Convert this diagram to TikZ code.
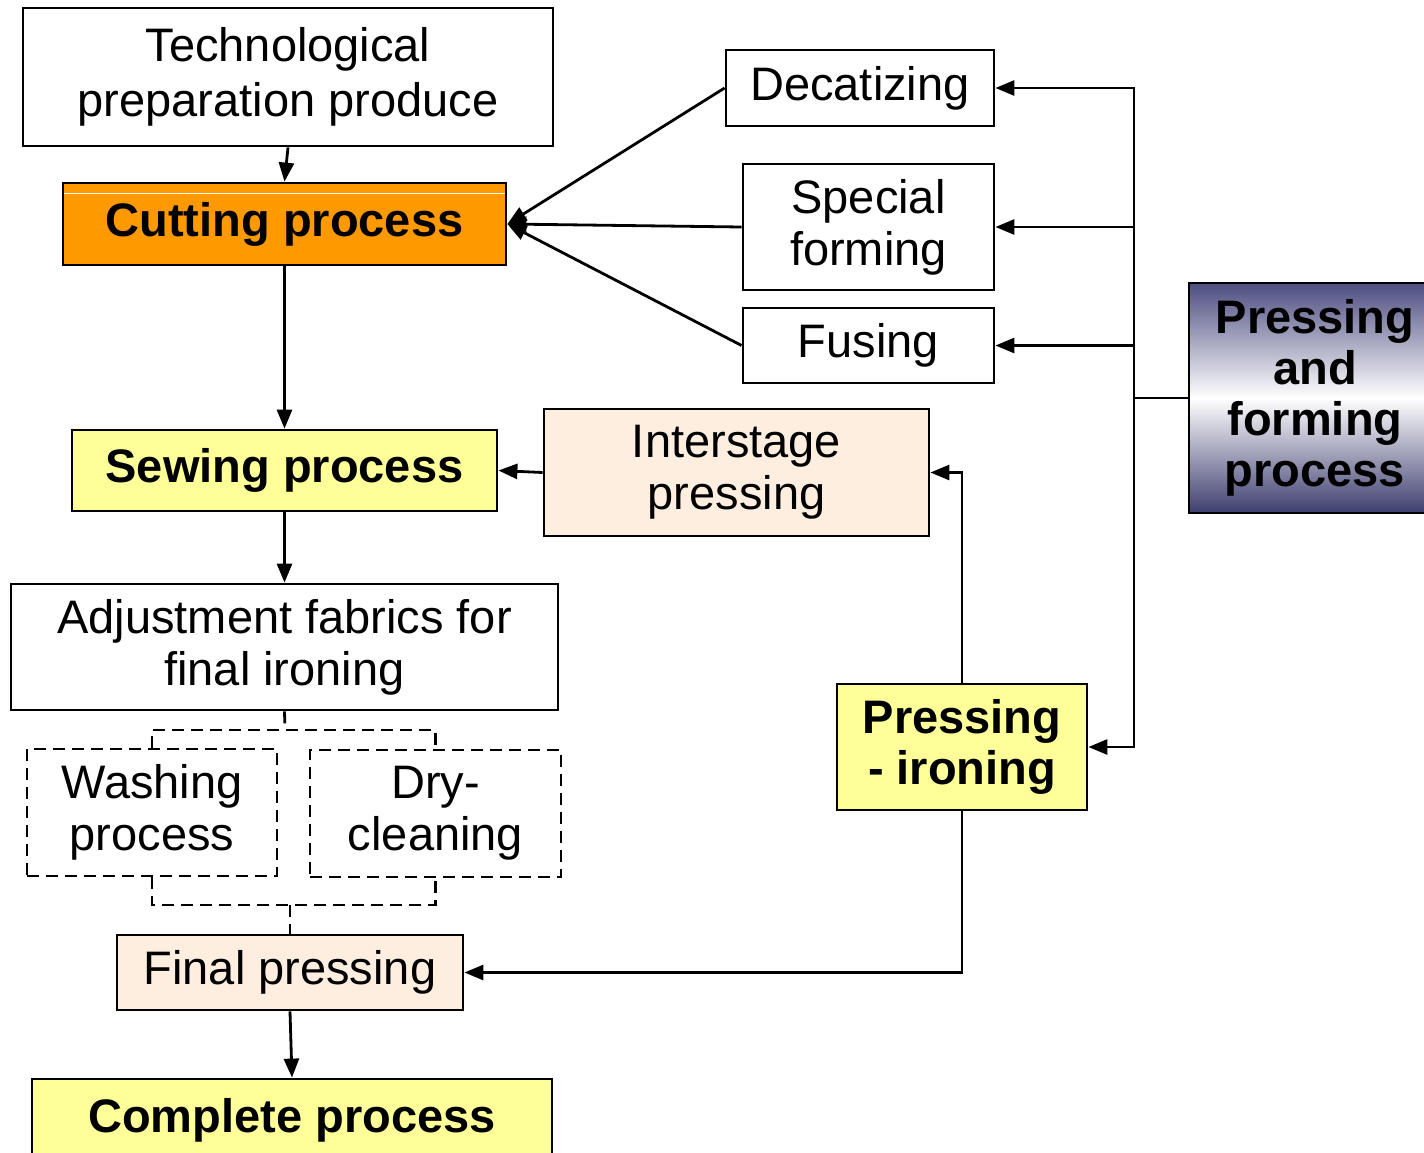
\documentclass[tikz,border=0pt]{standalone}
\usepackage{fontspec}
\setmainfont{Liberation Sans}
\usetikzlibrary{arrows.meta}
\definecolor{cutorange}{HTML}{FF9900}
\definecolor{paleyellow}{HTML}{FFFF99}
\definecolor{peach}{HTML}{FDEEDF}
\definecolor{navytop}{RGB}{78,78,130}
\definecolor{navybot}{RGB}{62,62,112}
\begin{document}
\begin{tikzpicture}[x=1pt,y=-1pt,
  box/.style={draw=black, line width=2.8pt, inner sep=0pt, align=center,
    font=\fontsize{47}{52}\selectfont},
  bbox/.style={box, font=\fontsize{47}{51}\selectfont\bfseries},
  dbox/.style={box, dash pattern=on 12pt off 7pt},
  conn/.style={line width=2.8pt},
  dsh/.style={line width=2.8pt, dash pattern=on 12pt off 7pt},
  arr/.style={line width=2.8pt, -{Triangle[length=19pt,width=15pt]}}]
\useasboundingbox (0,0) rectangle (1424,1152);

\node[box, minimum width=530pt, minimum height=138pt, font=\fontsize{47}{55}\selectfont] (tech) at (288,77) {Technological\\preparation produce};
\node[bbox, fill=cutorange, minimum width=443pt, minimum height=82pt] (cut) at (284.5,224) {Cutting process};
\draw[white, line width=1.2pt] ([xshift=2pt,yshift=-12pt]cut.north west) -- ([xshift=-2pt,yshift=-12pt]cut.north east);
\node[box, minimum width=268pt, minimum height=76pt] (dec) at (860,88) {Decatizing};
\node[box, minimum width=251pt, minimum height=126pt] (spec) at (868.5,227) {Special\\forming};
\node[box, minimum width=251pt, minimum height=75pt] (fus) at (868.5,345.5) {Fusing};
\node[bbox, top color=navytop, bottom color=navybot, middle color=white, minimum width=252pt, minimum height=230pt] (pf) at (1315,398) {Pressing\\and\\forming\\process};
\node[bbox, fill=paleyellow, minimum width=425pt, minimum height=81pt] (sew) at (284.5,470.5) {Sewing process};
\node[box, fill=peach, minimum width=385pt, minimum height=127pt] (inter) at (736.5,472.5) {Interstage\\pressing};
\node[box, minimum width=547pt, minimum height=126pt] (adj) at (284.5,647) {Adjustment fabrics for\\final ironing};
\node[dbox, minimum width=250pt, minimum height=127pt] (wash) at (152,812.5) {Washing\\process};
\node[dbox, minimum width=251pt, minimum height=127pt] (dry) at (435.5,813.5) {Dry-\\cleaning};
\node[bbox, fill=paleyellow, minimum width=250pt, minimum height=126pt] (pi) at (962,747) {Pressing\\- ironing};
\node[box, fill=peach, minimum width=346pt, minimum height=75pt] (fin) at (290,972.5) {Final pressing};
\node[bbox, fill=paleyellow, minimum width=520pt, minimum height=82pt] (comp) at (292,1120) {Complete process};

\draw[arr] (tech.south) -- (cut.north);
\draw[arr] (dec.west) -- (cut.east);
\draw[arr] (spec.west) -- (cut.east);
\draw[arr] (fus.west) -- (cut.east);
\draw[arr] (cut.south) -- (sew.north);
\draw[arr] (inter.west) -- (sew.east);
\draw[arr] (sew.south) -- (adj.north);

\coordinate (j1) at (285,730);
\coordinate (j2) at (290,905);
\draw[dsh] (adj.south) -- (j1);
\draw[dsh] (wash.north) |- (j1) -| (dry.north);
\draw[dsh] (wash.south) |- (j2) -| (dry.south);
\draw[dsh] (j2) -- (fin.north);
\draw[arr] (fin.south) -- (comp.north);

\draw[arr] (pi.north) |- (inter.east);
\draw[arr] (pi.south) |- (fin.east);

\coordinate (bus) at (1134,398);
\draw[conn] (pf.west) -- (bus);
\draw[arr] (bus) |- (dec.east);
\draw[arr] (bus) |- (spec.east);
\draw[arr] (bus) |- (fus.east);
\draw[arr] (bus) |- (pi.east);
\end{tikzpicture}
\end{document}
